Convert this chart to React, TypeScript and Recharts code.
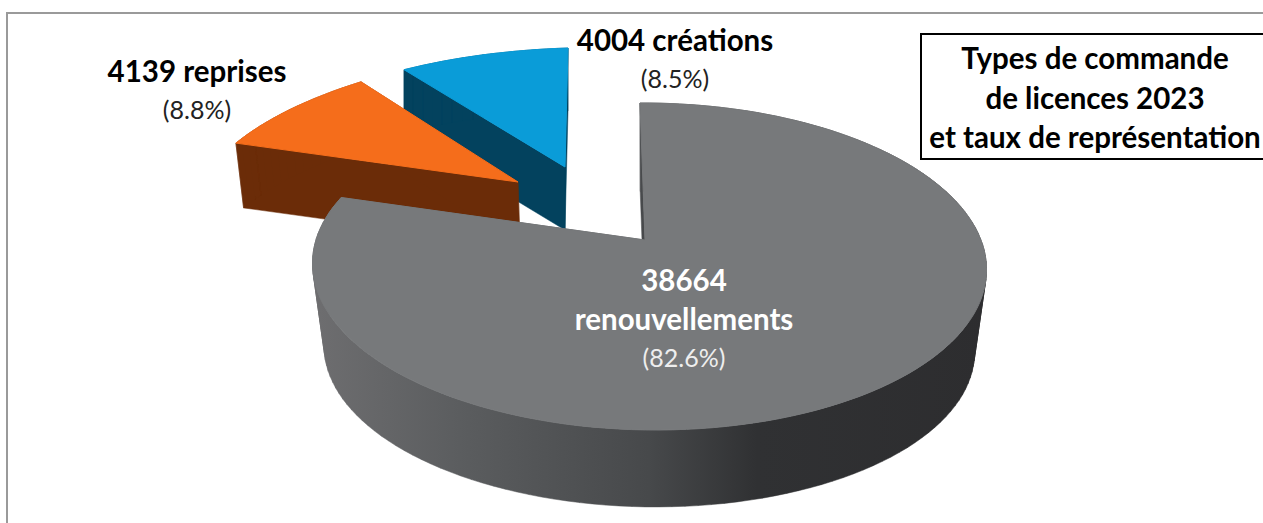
import React from "react"
import { Pie, PieChart } from "recharts"

// slices go counter-clockwise from 12 o'clock, so the back ones paint first
const categories = ["créations", "reprises", "renouvellements"]
const counts = [4004, 4139, 38664]
const shares = ["8.5%", "8.8%", "82.6%"]

const data = categories.map((name, i) => ({ name, value: counts[i] }))

const WIDTH = 1263
const HEIGHT = 523
const RADIUS = 338
const FONT = "Lato, Carlito, sans-serif"

// hand fitted 3D look: the picture is a perspective view, every slice has its own
const views = [
    { ox: -80, oy: -73, a: 319.6, b: 3, c: -9.7, d: -119, g: 0, h: 0, sweep: 1, scale: 1, dx: 0, depth: 63, top: "#0a9cd8", side: "#03425e" },
    { ox: -127, oy: -58, a: 322.5, b: 9.4, c: -24, d: -131, g: 0, h: 0, sweep: 1, scale: 0.98, dx: 2, depth: 64, top: "#f56d1b", side: "#6b2c08" },
    { ox: 0, oy: 0, a: 332.5, b: -5.8, c: 0, d: -159.2, g: 0.162, h: -0.0104, sweep: 0.963, scale: 0.965, dx: 0, depth: 83.6, top: "#77797b", side: "url(#greySide)" },
]

const labelSpots = [
    { x: 675, y: 51, color: "#000", note: "#222", split: false },
    { x: 197, y: 82, color: "#000", note: "#222", split: false },
    { x: 684, y: 291, color: "#fff", note: "#eee", split: true },
]

const polygon = (pts: number[][]) =>
    "M" + pts.map((p) => p[0].toFixed(1) + "," + p[1].toFixed(1)).join("L") + "Z"

const Slice3D = (props: any) => {
    const { cx, cy, outerRadius, startAngle, endAngle, index } = props
    const v = views[index]
    const k = outerRadius / RADIUS
    const ax = cx + v.ox
    const ay = cy + v.oy

    const project = (deg: number) => {
        const t = (deg * Math.PI) / 180
        const u = Math.cos(t)
        const w = Math.sin(t)
        const den = 1 + v.g * w + v.h * u
        return [ax + (k * (v.a * u + v.b * w)) / den, ay + (k * (v.c * u + v.d * w)) / den]
    }
    const drop = (p: number[]) => [
        ax + v.dx + v.scale * (p[0] - ax),
        ay + v.depth + v.scale * (p[1] - ay),
    ]

    const span = (endAngle - startAngle) * v.sweep
    const steps = Math.ceil(Math.abs(span) / 2)
    const rim = []
    for (let i = 0; i <= steps; i++) {
        rim.push(project(endAngle - span + (span * i) / steps))
    }
    const outline = [[ax, ay], ...rim]

    // walls: one quad per outline segment, all turned the same way
    let walls = ""
    outline.forEach((p, i) => {
        const q = outline[(i + 1) % outline.length]
        const quad = [p, q, drop(q), drop(p)]
        let area = 0
        quad.forEach((s, j) => {
            const n = quad[(j + 1) % 4]
            area += s[0] * n[1] - n[0] * s[1]
        })
        walls += polygon(area < 0 ? quad.reverse() : quad)
    })

    return (
        <g>
            <path d={walls} fill={v.side} stroke={v.side} strokeWidth={0.5} />
            <path d={polygon(outline)} fill={v.top} stroke={v.top} strokeWidth={1} />
        </g>
    )
}

const renderLabel = (props: any) => {
    const i = props.index
    const spot = labelSpots[i]
    const lines = spot.split ? [String(counts[i]), categories[i]] : [counts[i] + " " + categories[i]]
    return (
        <text textAnchor="middle" fontFamily={FONT} fill={spot.color}>
            {lines.map((line, n) => (
                <tspan key={line} x={spot.x} y={spot.y + n * 39} fontSize={29.5} fontWeight={700}>
                    {line}
                </tspan>
            ))}
            <tspan x={spot.x} y={spot.y + lines.length * 39 - 2} fontSize={25} fill={spot.note}>
                ({shares[i]})
            </tspan>
        </text>
    )
}

const titleLines = ["Types de commande", "de licences 2023", "et taux de représentation"]

export default function App() {
    return (
        <div style={{ position: "fixed", left: 0, top: 0, width: WIDTH, height: HEIGHT, overflow: "hidden", background: "#fff" }}>
            <div style={{ position: "absolute", left: 6, top: 12, width: WIDTH + 40, height: HEIGHT + 40, border: "2px solid #9a9a9a" }} />
            <PieChart width={WIDTH} height={HEIGHT} margin={{ top: 0, right: 0, bottom: 0, left: 0 }} style={{ position: "absolute", left: 0, top: 0 }}>
                <defs>
                    <linearGradient id="greySide" gradientUnits="userSpaceOnUse" x1={311} y1={0} x2={986} y2={0}>
                        <stop offset="0" stopColor="#6e6e70" />
                        <stop offset="0.22" stopColor="#5b5d5f" />
                        <stop offset="0.5" stopColor="#47494b" />
                        <stop offset="0.66" stopColor="#303133" />
                        <stop offset="1" stopColor="#2d2d2f" />
                    </linearGradient>
                </defs>
                <Pie
                    data={data}
                    dataKey="value"
                    nameKey="name"
                    cx={645}
                    cy={240}
                    outerRadius={RADIUS}
                    startAngle={90}
                    endAngle={450}
                    stroke="none"
                    shape={Slice3D}
                    label={renderLabel}
                    labelLine={false}
                    isAnimationActive={false}
                />
            </PieChart>
            <div style={{ position: "absolute", left: 920, top: 33, width: 400, height: 123, border: "2px solid #000", background: "#fff" }} />
            <div style={{ position: "absolute", left: 925, top: 38, width: 340, textAlign: "center", fontFamily: FONT, fontWeight: 700, fontSize: 29.5, lineHeight: "39.5px", color: "#000", whiteSpace: "nowrap" }}>
                {titleLines.map((line) => (
                    <div key={line}>{line}</div>
                ))}
            </div>
        </div>
    )
}
